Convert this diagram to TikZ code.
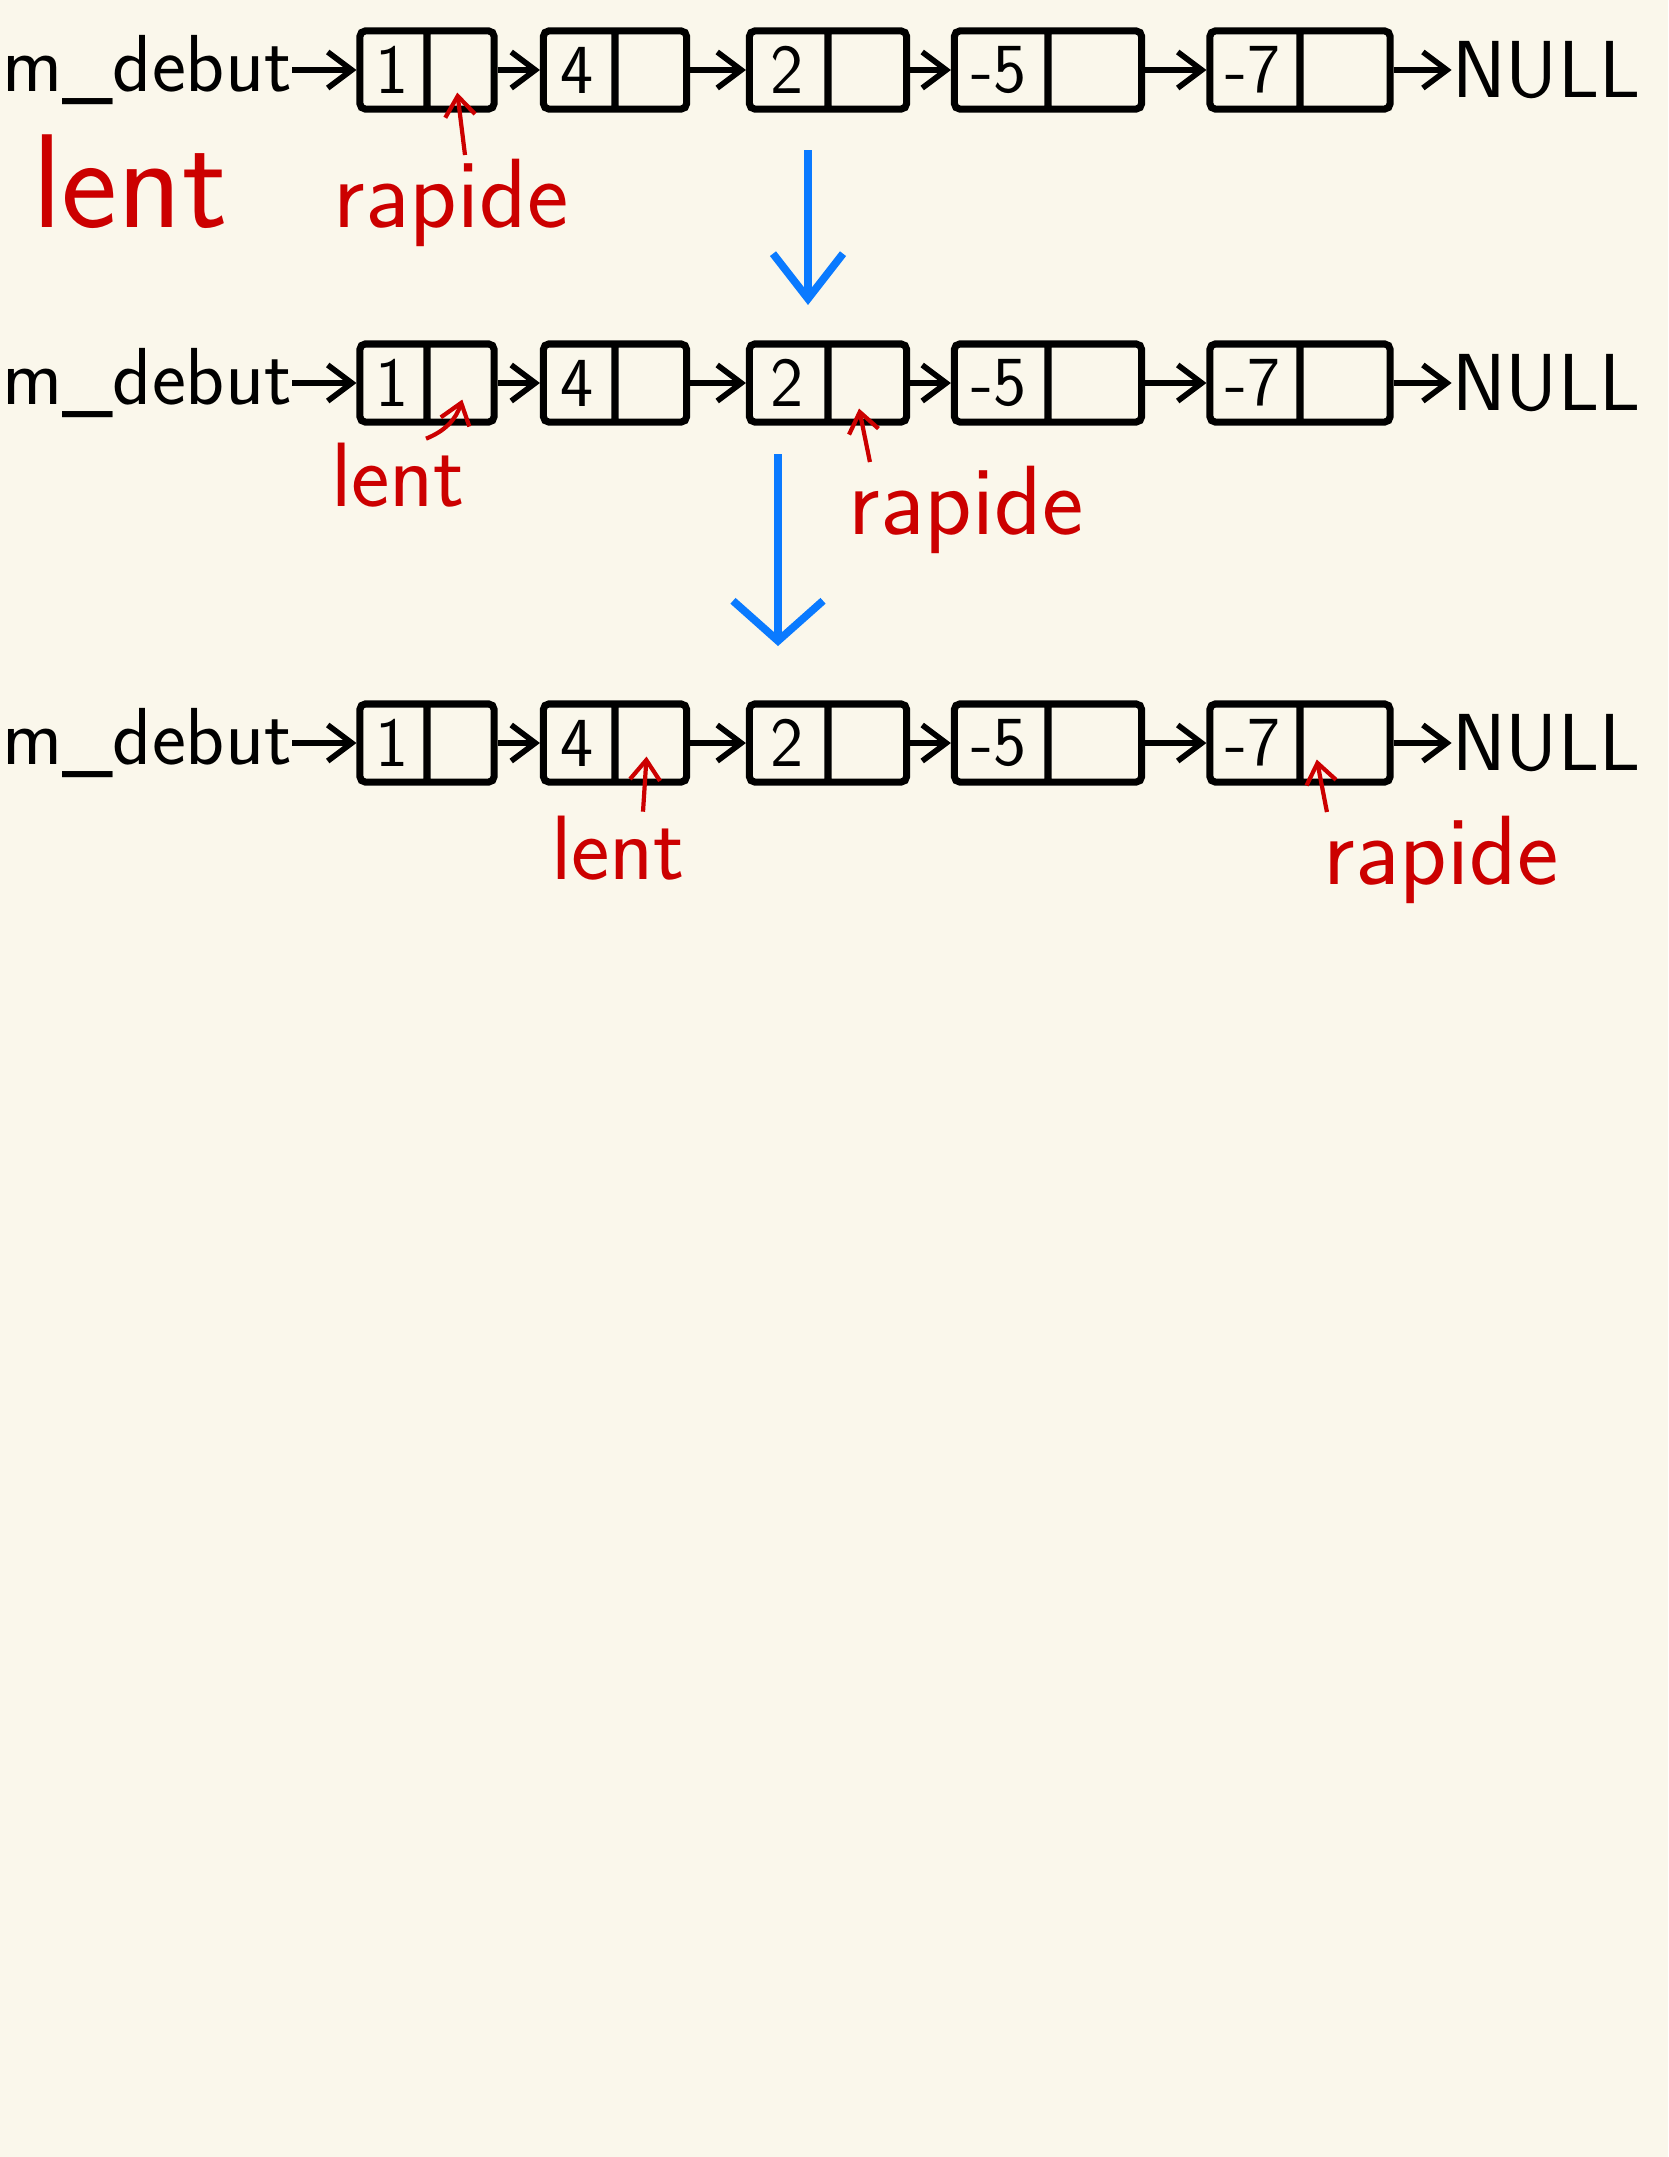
\documentclass[tikz,border=0pt]{standalone}
\usepackage{tikz}
\usetikzlibrary{positioning,shapes.multipart,arrows.meta,calc}
\definecolor{papier}{HTML}{FAF7EB}
\definecolor{rouge}{HTML}{CC0000}
\definecolor{bleu}{HTML}{0A7AFF}

\begin{document}
\begin{tikzpicture}[x=0.01cm, y=-0.01cm,
  cellule/.style={draw, line width=2pt, rectangle split, rectangle split horizontal,
    rectangle split parts=2, rounded corners=1.5pt, minimum height=0.78cm,
    inner xsep=0.1cm, align=center, font=\sffamily\fontsize{20}{24}\selectfont},
  texte/.style={inner sep=0pt, font=\sffamily\fontsize{23}{28}\selectfont},
  lien/.style={line width=1.6pt, -{Straight Barb[length=2.4mm,width=3.6mm]}},
  etiquette/.style={text=rouge, inner sep=1pt, font=\sffamily\fontsize{28}{32}\selectfont},
  pointeur/.style={rouge, line width=1.2pt, -{Straight Barb[length=2mm,width=3mm]}},
  etape/.style={bleu, line width=2.2pt, -{Straight Barb[length=4.5mm,width=7mm]}}]
% Page
\fill[papier] (0,0) rectangle (1668,2157);
\useasboundingbox (0,0) rectangle (1668,2157);
% Lists
\foreach \r/\yy in {1/70, 2/383, 3/743} {
    \foreach \c/\xx/\w/\val in {1/427/127/1, 2/615/136/4, 3/828/150/2, 4/1048/180/-5, 5/1300/173/-7} {
        \pgfmathsetmacro{\tw}{\w/200-0.2} % text width of one part in cm
        \node[cellule, text width=\tw cm] (c\r\c) at (\xx,\yy) {\val\nodepart{two}};
    }
    \node[texte, left=0.64cm of c\r1] (deb\r) {m\_debut};
    \node[texte, right=0.58cm of c\r5] (nul\r) {NULL};
    \draw[lien] (deb\r) -- (c\r1);
    \foreach \a/\b in {1/2, 2/3, 3/4, 4/5}
        \draw[lien] (c\r\a) -- (c\r\b);
    \draw[lien] (c\r5) -- (nul\r);
}
% Row 1 pointers
\node[etiquette, font=\sffamily\fontsize{38}{42}\selectfont] (lent1) at (130,182) {lent};
\node[etiquette] (rap1) at (451,203) {rapide};
\draw[pointeur] ([xshift=0.14cm]rap1.north) -- ($(c11.two south)+(-5,-20)$);
% Row 2 pointers
\node[etiquette, font=\sffamily\fontsize{26}{30}\selectfont] (lent2) at (398,475) {lent};
\draw[pointeur] ([xshift=0.28cm]lent2.north) to[bend right=25] ($(c21.two south)+(0,-26)$);
\node[etiquette] (rap2) at (966,510) {rapide};
\draw[pointeur] ([xshift=-0.96cm]rap2.north) -- ($(c23.two south)+(-10,-17)$);
% Row 3 pointers
\node[etiquette, font=\sffamily\fontsize{26}{30}\selectfont] (lent3) at (618,848) {lent};
\draw[pointeur] ([xshift=0.25cm]lent3.north) -- ($(c32.two south)+(-6,-29)$);
\node[etiquette] (rap3) at (1441,860) {rapide};
\draw[pointeur] ([xshift=-1.14cm]rap3.north) -- ($(c35.two south)+(-30,-26)$);
% Steps
\coordinate (hautA) at (808,150);
\coordinate (basA) at (808,305);
\draw[etape] (hautA) -- (basA);
\coordinate (hautB) at (778,454);
\coordinate (basB) at (778,646);
\draw[etape, -{Straight Barb[length=4mm,width=9mm]}] (hautB) -- (basB);
\end{tikzpicture}
\end{document}
